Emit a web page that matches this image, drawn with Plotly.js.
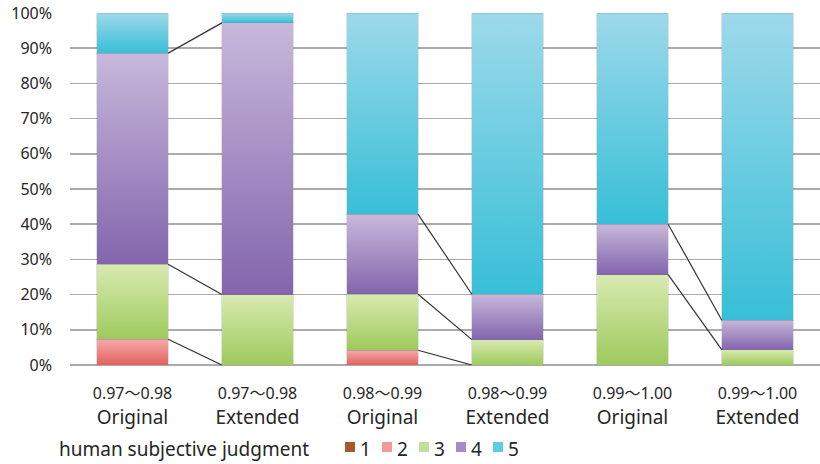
<!DOCTYPE html>
<html>
<head>
<meta charset="utf-8">
<script src="https://cdn.plot.ly/plotly-3.0.1.min.js"></script>
<style>
  html, body { margin: 0; padding: 0; background: #ffffff; }
  #chart { width: 820px; height: 464px; }
</style>
</head>
<body>
<div id="chart"></div>
<script>
// Score bands and the two data sets compared within each band
const ranges = ['0.97〜0.98', '0.97〜0.98', '0.98〜0.99', '0.98〜0.99', '0.99〜1.00', '0.99〜1.00'];
const sets = ['Original', 'Extended', 'Original', 'Extended', 'Original', 'Extended'];

// Share (%) of each human subjective judgment score per bar
const seriesNames = ['1', '2', '3', '4', '5'];
const score1 = [0, 0, 0, 0, 0, 0];
const score2 = [7.3, 0, 4.2, 0, 0, 0];
const score3 = [21.3, 20.0, 15.9, 7.2, 25.7, 4.3];
const score4 = [60.0, 77.2, 22.7, 12.9, 14.3, 8.4];
const score5 = [11.4, 2.8, 57.2, 79.9, 60.0, 87.3];
const scores = [score1, score2, score3, score4, score5];

// Fill colours: [top of segment, bottom of segment, legend swatch]
const shades = [
  ['#a85a2c', '#a85a2c', '#a85a2c'],
  ['#f6aaa9', '#e2615f', '#f09a99'],
  ['#d9eab1', '#9dca5c', '#c2df98'],
  ['#c7b8db', '#8365ad', '#a48ccb'],
  ['#9dd9ea', '#37bfd7', '#5ccde2']
];

const legendTitle = 'human subjective judgment';
const FONT = '"Noto Sans", "Noto Sans CJK JP", sans-serif';
const INK = '#262626';
const GRID = '#ababab';
const BAR_W = 0.57;

const xs = ranges.map((_, i) => i);
const ticks = ranges.map((r, i) =>
  "<span style='font-size:16px'>" + r + "</span><br>" + sets[i]);

const traces = scores.map((vals, k) => ({
  type: 'bar',
  name: seriesNames[k],
  x: xs,
  y: vals,
  width: BAR_W,
  marker: { color: shades[k][1], line: { color: 'rgba(120,120,120,0.22)', width: 1 } },
  hoverinfo: 'skip',
  showlegend: false
}));

// Series lines joining each segment top of an Original bar to the Extended bar beside it
const cum = xs.map(i => {
  let s = 0;
  return scores.map(v => (s += v[i]));
});
for (let i = 0; i < xs.length; i += 2) {
  for (let k = 0; k < scores.length - 1; k++) {
    const a = cum[i][k], b = cum[i + 1][k];
    if (a === 0 && b === 0) continue;
    traces.push({
      type: 'scatter', mode: 'lines',
      x: [xs[i] + BAR_W / 2, xs[i + 1] - BAR_W / 2],
      y: [a, b],
      line: { color: '#333333', width: 1.2 },
      hoverinfo: 'skip', showlegend: false
    });
  }
}

// Pixel helpers for the hand-built legend under the axis
const L = 70, T = 13, W = 750, H = 352;
const px = v => (v - L) / W;
const py = v => (T + H - v) / H;

const shapes = [];
const annotations = [{
  xref: 'paper', yref: 'paper', x: px(57), y: py(449),
  xanchor: 'left', yanchor: 'middle', showarrow: false,
  text: legendTitle, font: { family: FONT, size: 19, color: INK }
}];
seriesNames.forEach((n, k) => {
  const x0 = 345 + k * 37;
  shapes.push({
    type: 'rect', xref: 'paper', yref: 'paper',
    x0: px(x0), x1: px(x0 + 10), y0: py(452), y1: py(442),
    fillcolor: shades[k][2], line: { width: 0 }
  });
  annotations.push({
    xref: 'paper', yref: 'paper', x: px(x0 + 13), y: py(449),
    xanchor: 'left', yanchor: 'middle', showarrow: false,
    text: n, font: { family: FONT, size: 19, color: INK }
  });
});

const layout = {
  width: 820, height: 464,
  margin: { l: L, r: 0, t: T, b: 464 - T - H },
  paper_bgcolor: '#ffffff', plot_bgcolor: '#ffffff',
  barmode: 'stack',
  font: { family: FONT, color: INK },
  xaxis: {
    range: [-0.5, 5.5], tickvals: xs, ticktext: ticks,
    showgrid: false, zeroline: false, showline: false, ticks: '',
    tickfont: { family: FONT, size: 19, color: INK },
    ticklabelstandoff: 14, fixedrange: true
  },
  yaxis: {
    range: [0, 100], dtick: 10, ticksuffix: '%',
    showgrid: true, gridcolor: GRID, gridwidth: 1.6,
    zeroline: true, zerolinecolor: GRID, zerolinewidth: 1.6,
    showline: false, ticks: '',
    tickfont: { family: FONT, size: 16, color: INK },
    ticklabelstandoff: 17, fixedrange: true
  },
  shapes: shapes,
  annotations: annotations
};

Plotly.newPlot('chart', traces, layout, { staticPlot: true, displayModeBar: false }).then(gd => {
  // Vertical gradient per segment, light at the top and deeper at the base
  const svg = gd.querySelector('.main-svg');
  const defs = svg.querySelector('defs');
  const NS = 'http://www.w3.org/2000/svg';
  shades.forEach((c, k) => {
    const g = document.createElementNS(NS, 'linearGradient');
    g.setAttribute('id', 'segfill' + k);
    g.setAttribute('x1', '0'); g.setAttribute('y1', '0');
    g.setAttribute('x2', '0'); g.setAttribute('y2', '1');
    [[0, c[0]], [1, c[1]]].forEach(([o, col]) => {
      const s = document.createElementNS(NS, 'stop');
      s.setAttribute('offset', o);
      s.setAttribute('stop-color', col);
      g.appendChild(s);
    });
    defs.appendChild(g);
  });
  gd.querySelectorAll('.barlayer .trace.bars').forEach((tr, k) => {
    tr.querySelectorAll('.point path').forEach(p => {
      p.style.fill = 'url(#segfill' + k + ')';
    });
  });
});
</script>
</body>
</html>
